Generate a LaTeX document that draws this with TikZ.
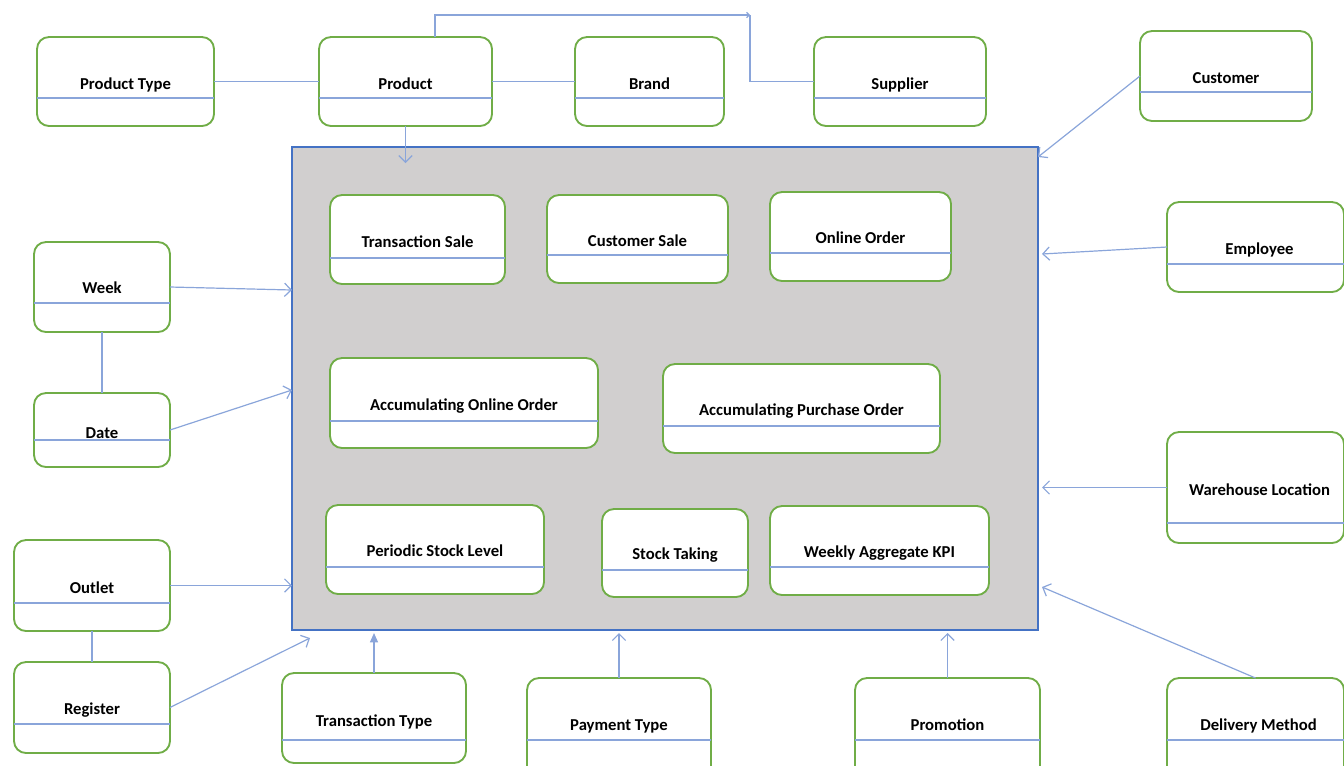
\documentclass[tikz,border=0pt]{standalone}
\usepackage{fontspec}
\setmainfont{Carlito}
\usetikzlibrary{arrows.meta,calc}
\definecolor{entgreen}{RGB}{112,173,71}
\definecolor{linkblue}{RGB}{138,165,218}
\definecolor{mainblue}{RGB}{68,114,196}
\definecolor{maingray}{RGB}{209,207,207}
\tikzset{
  entity/.style={draw=entgreen,line width=1.4pt,fill=white,rounded corners=9pt,inner sep=0pt,outer sep=0pt},
  divider/.style={draw=linkblue,line width=0.8pt},
  lbl/.style={font=\bfseries\fontsize{12.5}{15}\selectfont,anchor=base,inner sep=0pt},
  conn/.style={draw=linkblue,line width=0.9pt},
  arr/.style={conn,-{Straight Barb[length=5pt,width=10pt]}},
  farr/.style={conn,-{Triangle[length=7pt,width=6pt]}},
}
% \ent{name}{x1}{y1}{x2}{y2}{divider y}{text y}{text}[text x offset]
\newcommand\ent[9][0]{%
  \pgfmathsetmacro\cxx{(#3+#5)/2}\pgfmathsetmacro\cyy{(#4+#6)/2}%
  \pgfmathsetmacro\ww{(#5-#3)*0.75}\pgfmathsetmacro\hh{(#6-#4)*0.75}%
  \node[entity,minimum width=\ww pt,minimum height=\hh pt] (#2) at (\cxx,\cyy) {};
  \draw[divider] (#3,#7) -- (#5,#7);
  \node[lbl] (#2-t) at (\cxx+#1,#8+6) {#9};}
\begin{document}
\begin{tikzpicture}[x=0.75pt,y=-0.75pt]
\useasboundingbox (0,0) rectangle (1344,765);
% main fact area
\node[draw=mainblue,fill=maingray,line width=1pt,inner sep=0pt,outer sep=0pt,
      minimum width=559.5pt,minimum height=362.25pt] (main) at (665,388.5) {};
% outer dimensions
\ent{ptype}{37}{37}{214}{126}{98}{83}{Product Type}
\ent{prod}{319}{37}{492}{126}{98}{83}{Product}
\ent{brand}{575}{37}{724}{126}{98}{83}{Brand}
\ent{supp}{814}{37}{986}{126}{98}{83}{Supplier}
\ent{cust}{1140}{31}{1312}{121}{92}{77}{Customer}
\ent[4]{emp}{1167}{202}{1344}{292}{264}{248}{Employee}
\ent[4]{ware}{1167}{432}{1344}{543}{523}{489}{Warehouse Location}
\ent[3]{deliv}{1167}{678}{1344}{778}{740}{724}{Delivery Method}
\ent{promo}{855}{678}{1040}{778}{740}{724}{Promotion}
\ent{pay}{527}{678}{711}{778}{740}{724}{Payment Type}
\ent{ttype}{282}{673}{466}{763}{740}{720}{Transaction Type}
\ent{reg}{14}{662}{170}{753}{724}{708}{Register}
\ent{outlet}{14}{540}{170}{631}{603}{587}{Outlet}
\ent{date}{34}{393}{170}{467}{440}{432}{Date}
\ent{week}{34}{242}{170}{332}{303}{287}{Week}
% facts
\ent{tsale}{330}{195}{505}{284}{258}{241}{Transaction Sale}
\ent{csale}{547}{195}{728}{283}{255}{240}{Customer Sale}
\ent{oorder}{770}{192}{951}{281}{253}{237}{Online Order}
\ent{aoo}{330}{358}{598}{448}{421}{404}{Accumulating Online Order}
\ent{apo}{663}{364}{940}{453}{426}{409}{Accumulating Purchase Order}
\ent{psl}{326}{505}{544}{594}{567}{550}{Periodic Stock Level}
\ent{stake}{602}{509}{748}{597}{570}{553}{Stock Taking}
\ent{wkpi}{770}{506}{989}{595}{567}{551}{Weekly Aggregate KPI}
% connectors
\draw[conn] (ptype.east) -- (prod.west);
\draw[conn] (prod.east) -- (brand.west);
\coordinate (c1) at (750,15);
\draw[conn,-{Straight Barb[length=2pt,width=4pt]}] ($(prod.north)+(29.5,0)$) |- (c1);
\draw[conn] (c1) |- (supp.west);
\draw[arr] (prod.south) -- ($(prod.south |- main.north)+(0,16)$);
\draw[arr] (cust.west) -- ($(main.north east)+(0,10)$);
\draw[arr] (emp.west) -- ($(main.north east)+(4,107)$);
\draw[arr] (ware.west) -- ($(main.east |- ware.west)+(4,0)$);
\draw[arr] (deliv.north) -- ($(main.north east)+(4,440)$);
\draw[arr] (week.east) -- ($(main.north west)+(0,143)$);
\draw[conn] (week.south) -- (date.north);
\draw[arr] (date.east) -- ($(main.north west)+(0,243)$);
\draw[arr] (outlet.east) -- (main.west |- outlet.east);
\draw[conn] (outlet.south) -- (reg.north);
\draw[arr] (reg.east) -- ($(main.south west)+(18,8)$);
\draw[farr] (ttype.north) -- ($(ttype.north |- main.south)+(0,3)$);
\draw[arr] (pay.north) -- ($(pay.north |- main.south)+(0,3)$);
\draw[arr] (promo.north) -- ($(promo.north |- main.south)+(0,3)$);
\end{tikzpicture}
\end{document}
